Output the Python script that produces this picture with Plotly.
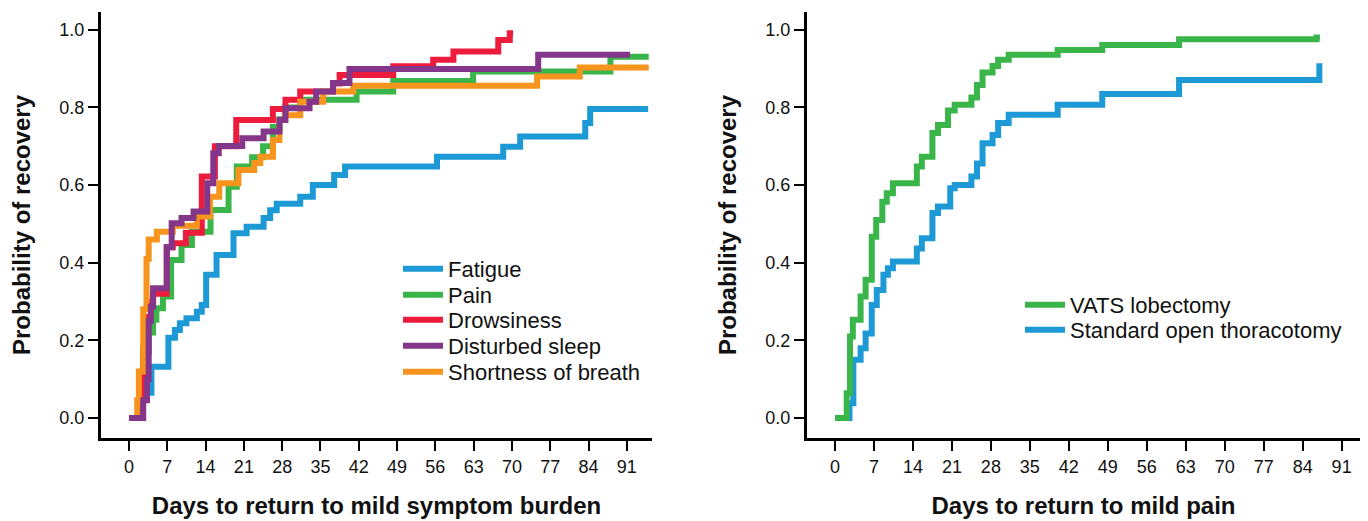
import plotly.graph_objects as go

# ---------------- data ----------------
fatigue_days = [0, 2.3, 4.1, 7.2, 8.4, 9.3, 10.5, 12.4, 13.3, 14.1, 16.0, 19.1, 21.5, 24.6, 25.8, 27.0,
                31.3, 33.6, 37.5, 39.5, 56.3, 68.4, 71.5, 83.4, 84.3, 94.9]
fatigue_prob = [0, 0.065, 0.132, 0.207, 0.227, 0.244, 0.257, 0.274, 0.291, 0.369, 0.420, 0.476, 0.493,
                0.515, 0.535, 0.552, 0.570, 0.600, 0.626, 0.648, 0.673, 0.699, 0.725, 0.760, 0.796, 0.796]

pain_days = [0, 2.0, 2.7, 3.6, 4.4, 5.0, 6.2, 7.7, 9.6, 11.5, 14.9, 18.2, 19.7, 22.5, 24.5, 26.3, 27.5,
             28.5, 31.3, 41.6, 48.3, 62.9, 88.0, 95.0]
pain_prob = [0, 0.05, 0.17, 0.22, 0.253, 0.283, 0.313, 0.407, 0.446, 0.48, 0.536, 0.596, 0.648, 0.672,
             0.70, 0.75, 0.77, 0.80, 0.82, 0.841, 0.868, 0.893, 0.931, 0.931]

drowsy_days = [0, 2.3, 2.6, 3.5, 4.0, 4.4, 6.9, 8.0, 10.4, 13.3, 15.7, 19.6, 26.3, 28.6, 31.3, 37.3,
               38.5, 48.3, 55.6, 59.3, 67.5, 69.6, 70.2]
drowsy_prob = [0, 0.10, 0.18, 0.26, 0.30, 0.32, 0.44, 0.45, 0.477, 0.622, 0.70, 0.768, 0.796, 0.82,
               0.841, 0.862, 0.884, 0.906, 0.923, 0.944, 0.974, 0.991, 0.991]

sleep_days = [0, 2.6, 3.3, 3.6, 4.0, 4.4, 6.9, 7.8, 9.6, 11.8, 14.3, 15.4, 16.4, 20.7, 24.6, 27.5,
              28.6, 33.0, 34.2, 37.3, 40.3, 74.8, 91.6]
sleep_prob = [0, 0.046, 0.10, 0.25, 0.287, 0.334, 0.44, 0.502, 0.515, 0.532, 0.605, 0.682, 0.701,
              0.721, 0.738, 0.768, 0.798, 0.815, 0.841, 0.863, 0.899, 0.936, 0.936]

breath_days = [0, 1.5, 1.8, 2.6, 3.2, 3.6, 5.1, 8.0, 12.4, 14.8, 16.5, 20.0, 22.9, 24.0, 26.3, 27.5,
               28.5, 31.3, 35.5, 41.0, 74.6, 82.4, 95.0]
breath_prob = [0, 0.046, 0.12, 0.28, 0.41, 0.46, 0.48, 0.495, 0.519, 0.57, 0.605, 0.639, 0.657, 0.673,
               0.716, 0.768, 0.78, 0.815, 0.841, 0.856, 0.88, 0.903, 0.903]

vats_days = [0, 2.1, 2.7, 3.2, 4.6, 5.5, 6.6, 7.4, 8.5, 9.3, 10.4, 14.7, 15.6, 17.5, 18.5, 20.3, 21.5,
             24.5, 25.5, 26.5, 28.3, 29.3, 31.2, 40.0, 48.0, 61.8, 86.5, 87.1]
vats_prob = [0, 0.064, 0.21, 0.253, 0.313, 0.356, 0.467, 0.51, 0.557, 0.579, 0.605, 0.648, 0.673, 0.734,
             0.755, 0.792, 0.807, 0.826, 0.858, 0.89, 0.907, 0.923, 0.936, 0.948, 0.961, 0.976, 0.98, 0.98]

open_days = [0, 2.6, 3.3, 4.6, 5.5, 6.6, 7.5, 8.7, 9.5, 10.4, 14.7, 15.6, 17.5, 18.5, 20.7, 21.5, 24.5,
             25.5, 26.5, 28.3, 29.3, 31.2, 40.0, 48.0, 61.8, 87.0]
open_prob = [0, 0.038, 0.15, 0.18, 0.218, 0.291, 0.33, 0.369, 0.386, 0.403, 0.437, 0.463, 0.528, 0.545,
             0.592, 0.60, 0.622, 0.656, 0.708, 0.729, 0.76, 0.781, 0.807, 0.835, 0.871, 0.914]

x_ticks = [0, 7, 14, 21, 28, 35, 42, 49, 56, 63, 70, 77, 84, 91]
y_ticks = [0.0, 0.2, 0.4, 0.6, 0.8, 1.0]

BLUE = "#1D9AD6"
GREEN = "#39B54A"
RED = "#ED1C3C"
PURPLE = "#84378A"
ORANGE = "#F7941D"

FONT = "Liberation Sans, Arial, Helvetica, sans-serif"
LW = 6

W, H = 1368, 521
T, B = 12, 83
PH = H - T - B


def px_x(p):
    return p / W


def px_y(p):
    return (H - B - p) / PH


fig = go.Figure()

# left panel: each entry gets its own legend box so rows can be spaced like the reference
# (drawing order puts purple on top, as in the reference)
left = [
    ("Fatigue", fatigue_days, fatigue_prob, BLUE, "legend", 269),
    ("Pain", pain_days, pain_prob, GREEN, "legend2", 295),
    ("Drowsiness", drowsy_days, drowsy_prob, RED, "legend3", 320),
    ("Shortness of breath", breath_days, breath_prob, ORANGE, "legend5", 372),
    ("Disturbed sleep", sleep_days, sleep_prob, PURPLE, "legend4", 346),
]
right = [
    ("Standard open thoracotomy", open_days, open_prob, BLUE, "legend7", 330),
    ("VATS lobectomy", vats_days, vats_prob, GREEN, "legend6", 305),
]

legend_layout = {}
for name, xs, ys, col, lg, yc in left:
    fig.add_trace(go.Scatter(x=xs, y=ys, mode="lines", name=name,
                             line=dict(color=col, width=LW, shape="hv"),
                             xaxis="x", yaxis="y", legend=lg))
    legend_layout[lg] = dict(x=px_x(398), y=px_y(yc), xanchor="left", yanchor="middle",
                             bgcolor="rgba(0,0,0,0)", font=dict(size=22, family=FONT, color="#111111"),
                             itemwidth=40)
for name, xs, ys, col, lg, yc in right:
    fig.add_trace(go.Scatter(x=xs, y=ys, mode="lines", name=name,
                             line=dict(color=col, width=LW, shape="hv"),
                             xaxis="x2", yaxis="y2", legend=lg))
    legend_layout[lg] = dict(x=px_x(1020), y=px_y(yc), xanchor="left", yanchor="middle",
                             bgcolor="rgba(0,0,0,0)", font=dict(size=22, family=FONT, color="#111111"),
                             itemwidth=40)

axis_common = dict(showline=True, linewidth=3, linecolor="black", ticks="outside", ticklen=10,
                   tickwidth=2, tickcolor="black", showgrid=False, zeroline=False, automargin=False,
                   tickfont=dict(family=FONT, size=18, color="#111111"))

fig.update_layout(
    template="none",
    width=W, height=H,
    margin=dict(l=0, r=0, t=T, b=B),
    plot_bgcolor="white", paper_bgcolor="white",
    font=dict(family=FONT, color="#111111"),
    xaxis=dict(domain=[px_x(101), px_x(652)], range=[-5.12, 95.6], tickvals=x_ticks, anchor="y",
               title=dict(text="<b>Days to return to mild symptom burden</b>",
                          font=dict(size=24, family=FONT), standoff=22),
               **axis_common),
    yaxis=dict(domain=[0, 1], range=[-0.0515, 1.046], tickvals=y_ticks, tickformat=".1f", anchor="x",
               title=dict(text="<b>Probability of recovery</b>", font=dict(size=24, family=FONT), standoff=22),
               **axis_common),
    xaxis2=dict(domain=[px_x(807), px_x(1360)], range=[-5.03, 94.3], tickvals=x_ticks, anchor="y2",
                title=dict(text="<b>Days to return to mild pain</b>", font=dict(size=24, family=FONT), standoff=22),
                **axis_common),
    yaxis2=dict(domain=[0, 1], range=[-0.0515, 1.046], tickvals=y_ticks, tickformat=".1f", anchor="x2",
                title=dict(text="<b>Probability of recovery</b>", font=dict(size=24, family=FONT), standoff=22),
                **axis_common),
    showlegend=True,
    **legend_layout,
)

fig.write_html("out.html",
               config={"displayModeBar": False},
               post_script="document.body.style.margin='0';document.body.style.overflow='hidden';")
